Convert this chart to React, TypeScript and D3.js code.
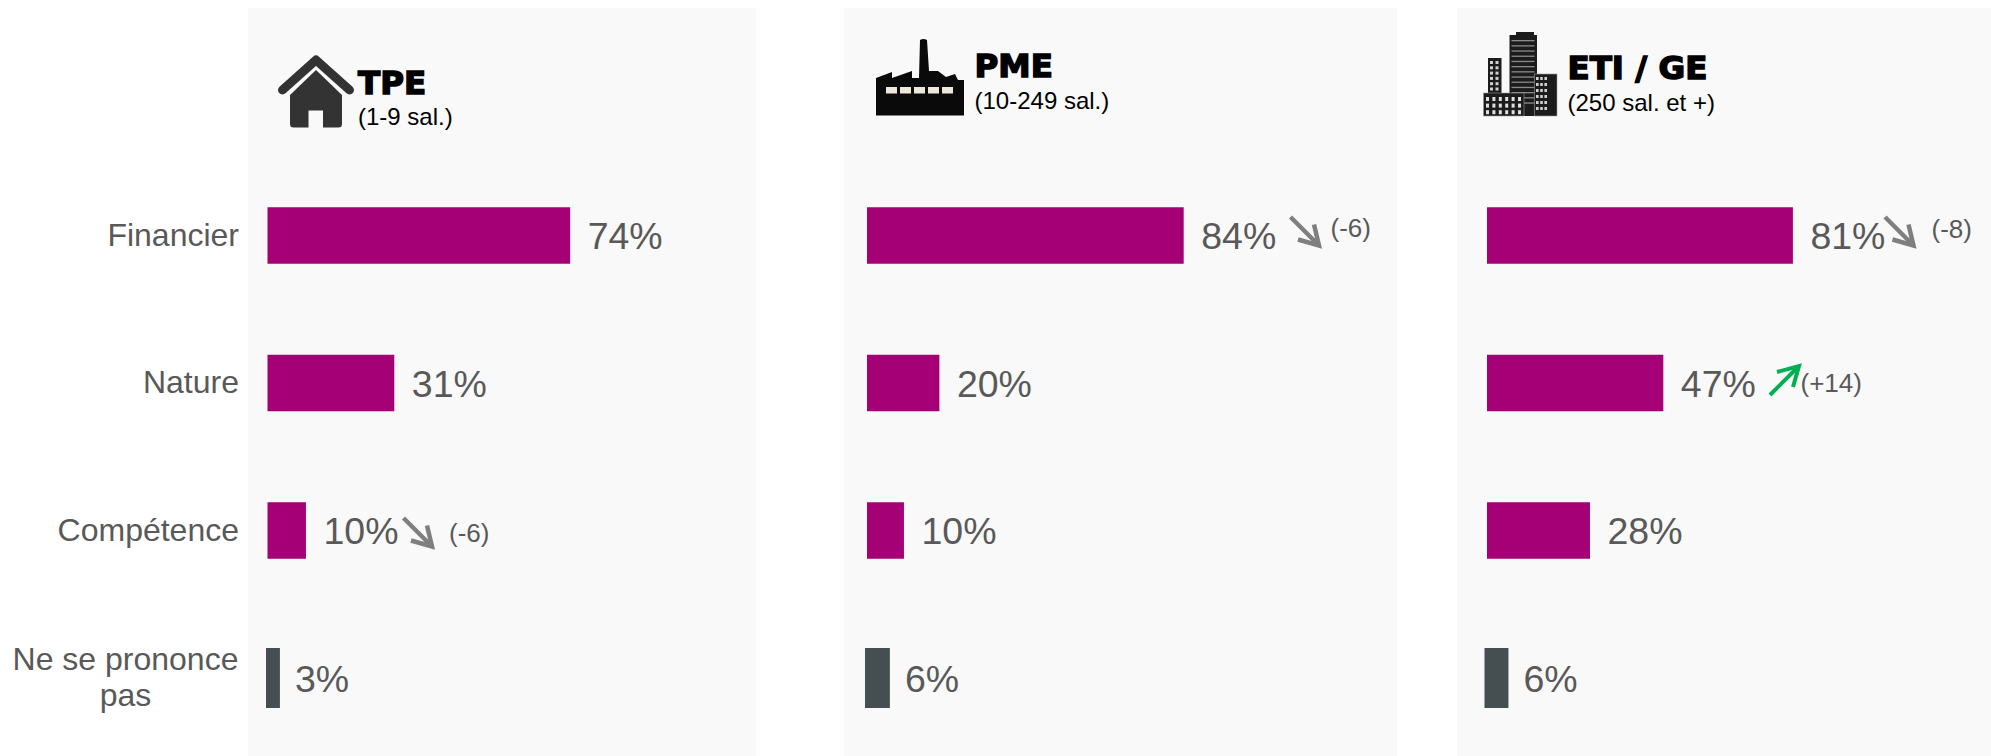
import React from "react";
import * as d3 from "d3";

const categories = ["Financier", "Nature", "Compétence", "Ne se prononce pas"];
const panelNames = ["TPE", "PME", "ETI / GE"];
const panelSubs = ["(1-9 sal.)", "(10-249 sal.)", "(250 sal. et +)"];
const tpeValues = [74, 31, 9.4, 3.4];
const pmeValues = [84, 19.2, 9.8, 6.6];
const etiValues = [80.5, 46.4, 27.1, 6.3];
const tpeLabels = ["74%", "31%", "10%", "3%"];
const pmeLabels = ["84%", "20%", "10%", "6%"];
const etiLabels = ["81%", "47%", "28%", "6%"];
const tpeDeltas = [null, null, "(-6)", null];
const pmeDeltas = ["(-6)", null, null, null];
const etiDeltas = ["(-8)", "(+14)", null, null];

const FONT = "'Liberation Sans', Arial, sans-serif";
const PURPLE = "#a60076";
const SLATE = "#454f52";
const TXT = "#595959";

type Arrow = { row: number; x: number; dy: number; up?: boolean };
const panels = [
  { name: 0, px: 248, pw: 508, x0: 267.5, pxPer: 4.09, nspShift: -1.5, values: tpeValues, labels: tpeLabels, deltas: tpeDeltas,
    titleX: 358, titleY: 94, subY: 125, arrows: [{ row: 2, x: 403.5, dy: 6 }] as Arrow[], deltaX: [0, 0, 449, 0], deltaDy: [0, 0, 11, 0] },
  { name: 1, px: 844, pw: 553, x0: 867, pxPer: 3.77, nspShift: -2, values: pmeValues, labels: pmeLabels, deltas: pmeDeltas,
    titleX: 974.5, titleY: 76.5, subY: 108.5, arrows: [{ row: 0, x: 1290.5, dy: 0 }] as Arrow[], deltaX: [1330.5, 0, 0, 0], deltaDy: [1.5, 0, 0, 0] },
  { name: 2, px: 1457, pw: 534, x0: 1487, pxPer: 3.8, nspShift: -2.5, values: etiValues, labels: etiLabels, deltas: etiDeltas,
    titleX: 1567.5, titleY: 78.5, subY: 110.5, arrows: [{ row: 0, x: 1885, dy: 0 }, { row: 1, x: 1770, dy: 0, up: true }] as Arrow[], deltaX: [1931.5, 1800.5, 0, 0], deltaDy: [2, 8.5, 0, 0] },
];

const rowY = d3.scalePoint<string>().domain(categories).range([235.5, 678]);

function ArrowMark({ x, y, up }: { x: number; y: number; up?: boolean }) {
  const color = up ? "#00b050" : "#7f7f7f";
  const span = up ? 29 : 28.5;
  const x2 = x + span;
  const y1 = up ? y + 12 : y - 18.5;
  const y2 = up ? y1 - span : y1 + span;
  const line = d3.line();
  const head = up
    ? line([[x2 - 22, y2 + 6], [x2, y2], [x2 - 6, y2 + 21]])
    : line([[x2 - 21, y2 - 6], [x2, y2], [x2 - 5, y2 - 21]]);
  return (
    <g fill="none" stroke={color} strokeWidth={up ? 4 : 4.5}>
      <line x1={x} y1={y1} x2={x2 - 1} y2={y2 + (up ? 1 : -1)} />
      <path d={head as string} />
    </g>
  );
}

function House() {
  return (
    <g>
      <path d="M290 95 L316 70 L342 95 V124 Q342 127.5 338.5 127.5 H323 V110.5 H308.5 V127.5 H293.5 Q290 127.5 290 124 Z" fill="#333333" />
      <path d="M282.5 90 L316 60 L349.5 90" fill="none" stroke="#333333" strokeWidth={9} strokeLinecap="round" strokeLinejoin="round" />
    </g>
  );
}

function Factory() {
  const windows = [886, 900, 914, 928, 942];
  return (
    <g>
      <path d="M876 115.5 V78 L892 72 V78 L912 71 V78 L919 78 L920 40 Q923.5 38 927 40 L929 71 L938 71 L946 77 L955 74 L958 80 H964 V115.5 Z" fill="#0a0a0a" />
      {windows.map((x) => <rect key={x} x={x} y={87} width={11} height={6.5} fill="#efe6dc" />)}
    </g>
  );
}

function Buildings() {
  const rows = d3.range(6);
  return (
    <g>
      <rect x={1509.5} y={35} width={27.5} height={81} fill="#1c1c1c" />
      <rect x={1516} y={32} width={18} height={4} fill="#1c1c1c" />
      {d3.range(13).map((i) => <rect key={i} x={1511.5} y={40 + i * 5.2} width={23} height={1.3} fill="#8a8a8a" />)}
      <rect x={1488} y={58} width={13.5} height={36} fill="#1c1c1c" />
      {rows.map((r) => [0, 1].map((c) => <rect key={`${r}-${c}`} x={1490 + c * 5.5} y={61 + r * 5.3} width={3} height={3} fill="#d0d0d0" />))}
      <rect x={1534.5} y={74} width={22.5} height={42} fill="#1c1c1c" stroke="#999" strokeWidth={0.6} />
      {rows.map((r) => [0, 1, 2].map((c) => <rect key={`${r}-${c}`} x={1536 + c * 4.2} y={77 + r * 6} width={2.6} height={3} fill="#d0d0d0" />))}
      <rect x={1483.5} y={93} width={40.5} height={23} fill="#1c1c1c" stroke="#999" strokeWidth={0.6} />
      {d3.range(3).map((r) => d3.range(6).map((c) => <rect key={`${r}-${c}`} x={1486 + c * 6.4} y={97 + r * 6.6} width={3} height={4} fill="#e0e0e0" />))}
    </g>
  );
}

const icons = [<House key="h" />, <Factory key="f" />, <Buildings key="b" />];

export default function App() {
  const labelX = 239;
  return (
    <svg width={1991} height={756} viewBox="0 0 1991 756" style={{ position: "absolute", top: 0, left: 0, display: "block" }} fontFamily={FONT}>
      <rect width={1991} height={756} fill="#ffffff" />
      {panels.map((p) => (
        <rect key={p.name} x={p.px} y={8} width={p.pw} height={748} fill="#f9f9f9" />
      ))}
      {categories.slice(0, 3).map((c) => (
        <text key={c} x={labelX} y={(rowY(c) as number) + 10} textAnchor="end" fontSize={32} fill={TXT}>{c}</text>
      ))}
      <text textAnchor="middle" fontSize={32} fill={TXT}>
        <tspan x={125.5} y={669.5}>Ne se prononce</tspan>
        <tspan x={125.5} y={706}>pas</tspan>
      </text>
      {panels.map((p) => {
        const x = d3.scaleLinear().domain([0, 100]).range([0, p.pxPer * 100]);
        return (
          <g key={p.name}>
            {icons[p.name]}
            <text x={p.titleX} y={p.titleY} fontFamily="'DejaVu Sans', sans-serif" fontWeight="bold" fontSize={32.5} stroke="#000" strokeWidth={1.5} fill="#000">{panelNames[p.name]}</text>
            <text x={p.titleX} y={p.subY} fontSize={24} fill="#000">{panelSubs[p.name]}</text>
            {categories.map((c, i) => {
              const nsp = i === 3;
              const h = nsp ? 60 : 56.5;
              const cy = rowY(c) as number;
              const bx = p.x0 + (nsp ? p.nspShift : 0);
              const w = x(p.values[i]);
              const delta = p.deltas[i];
              return (
                <g key={c}>
                  <rect x={bx} y={cy - h / 2} width={w} height={h} fill={nsp ? SLATE : PURPLE} />
                  <text x={bx + w + (nsp ? 15 : 17.5)} y={cy + 13.5} fontSize={37.5} fill={TXT}>{p.labels[i]}</text>
                  {delta && <text x={p.deltaX[i]} y={cy + p.deltaDy[i]} fontSize={26} fill={TXT}>{delta}</text>}
                </g>
              );
            })}
            {p.arrows.map((a) => (
              <ArrowMark key={a.row} x={a.x} y={(rowY(categories[a.row]) as number) + a.dy} up={a.up} />
            ))}
          </g>
        );
      })}
    </svg>
  );
}
